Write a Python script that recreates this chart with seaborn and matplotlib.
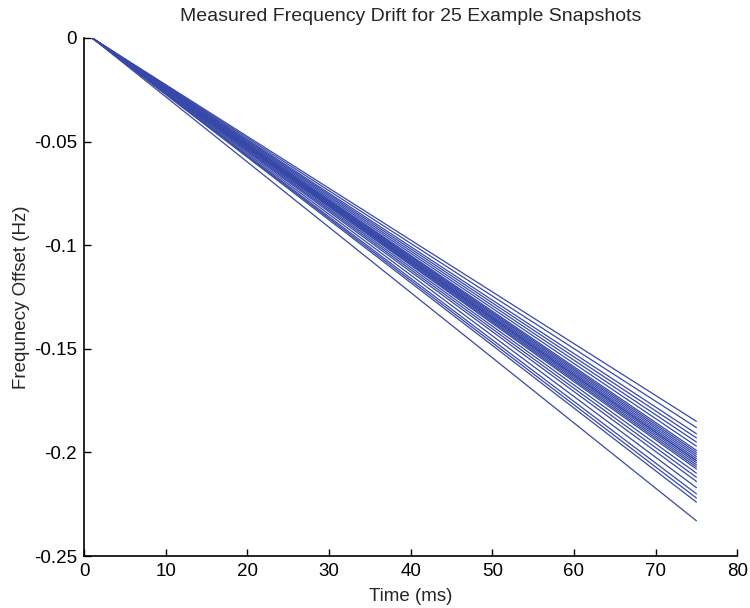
import matplotlib
matplotlib.use("Agg")
import matplotlib.pyplot as plt
import seaborn as sns
import pandas as pd
import numpy as np

# Data: each snapshot drifts linearly from 0 at t=1 ms to its end value at t=75 ms
time_ms = [1, 75]
end_offsets = [-0.185, -0.188, -0.191, -0.193, -0.195, -0.197, -0.199, -0.200,
               -0.201, -0.202, -0.203, -0.204, -0.204, -0.205, -0.206, -0.207,
               -0.208, -0.210, -0.212, -0.214, -0.217, -0.220, -0.222, -0.224,
               -0.233]
x_ticks = [0, 10, 20, 30, 40, 50, 60, 70, 80]
y_ticks = [0, -0.05, -0.1, -0.15, -0.2, -0.25]
y_tick_labels = ["0", "-0.05", "-0.1", "-0.15", "-0.2", "-0.25"]

rows = []
for i, e in enumerate(end_offsets):
    rows.append({"snap": i, "t": time_ms[0], "f": 0.0})
    rows.append({"snap": i, "t": time_ms[1], "f": e})
df = pd.DataFrame(rows)

sns.set_theme(style="ticks")
plt.rcParams["font.family"] = ["Liberation Sans", "DejaVu Sans"]
plt.rcParams["axes.unicode_minus"] = False

fig = plt.figure(figsize=(7.5, 6.08), dpi=100)
ax = fig.add_axes([0.112, 0.0855, 0.871, 0.852])

color = "#3748a8"
sns.lineplot(data=df, x="t", y="f", hue="snap", palette=[color] * len(end_offsets),
             legend=False, linewidth=0.9, ax=ax)

ax.set_xlim(0, 80)
ax.set_ylim(-0.25, 0)
ax.set_xticks(x_ticks)
ax.set_xticklabels([str(v) for v in x_ticks])
ax.set_yticks(y_ticks)
ax.set_yticklabels(y_tick_labels)
ax.tick_params(direction="in", length=5, width=1, labelsize=13.5, colors="black")
ax.tick_params(axis="x", pad=5)
ax.tick_params(axis="y", pad=5)
for s in ["top", "right"]:
    ax.spines[s].set_visible(False)
for s in ["left", "bottom"]:
    ax.spines[s].set_linewidth(1.2)
    ax.spines[s].set_color("black")

ax.set_xlabel("Time (ms)", fontsize=13.5, labelpad=6)
ax.set_ylabel("Frequnecy Offset (Hz)", fontsize=13.5, labelpad=3)
ax.set_title("Measured Frequency Drift for 25 Example Snapshots", fontsize=14, pad=12)

fig.savefig("out.png", dpi=100)
